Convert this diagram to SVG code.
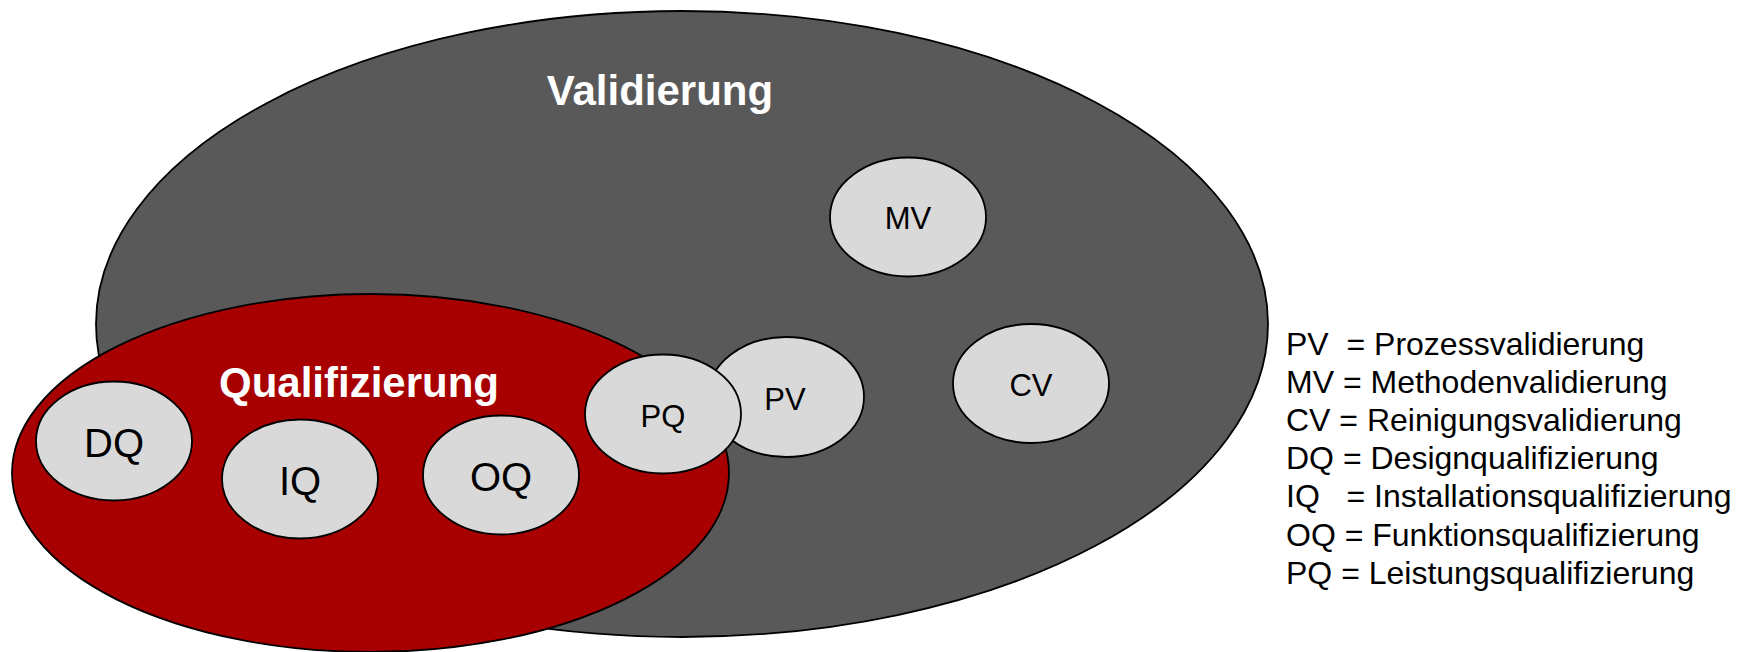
<svg xmlns="http://www.w3.org/2000/svg" width="1750" height="652" viewBox="0 0 1750 652">
<style>
.big{fill:#595959;stroke:#000;stroke-width:1.8}
.red{fill:#A80000;stroke:#000;stroke-width:1.8}
.sub{fill:#D9D9D9;stroke:#000;stroke-width:1.8}
.title{font-family:"Liberation Sans",Arial,sans-serif;font-weight:bold;font-size:42px;fill:#fff;text-anchor:middle}
.lbl{font-family:"Liberation Sans",Arial,sans-serif;fill:#000;text-anchor:middle}
.lg{font-family:"Liberation Sans",Arial,sans-serif;font-size:32px;fill:#000;white-space:pre}
</style>
<rect width="1750" height="652" fill="#fff"/>
<g id="validierung">
<ellipse class="big" cx="682" cy="324" rx="586" ry="313"/>
<text class="title" x="660" y="105">Validierung</text>
</g>
<g id="qualifizierung">
<ellipse class="red" cx="370.5" cy="473" rx="358.5" ry="179"/>
<text class="title" x="359" y="397">Qualifizierung</text>
</g>
<g id="dq">
<ellipse class="sub" cx="114" cy="441" rx="78" ry="59.5"/>
<text class="lbl" x="114" y="457" font-size="40">DQ</text>
</g>
<g id="iq">
<ellipse class="sub" cx="300" cy="479" rx="78" ry="59.5"/>
<text class="lbl" x="300" y="495" font-size="40">IQ</text>
</g>
<g id="oq">
<ellipse class="sub" cx="501" cy="475" rx="78" ry="59.5"/>
<text class="lbl" x="501" y="491" font-size="40">OQ</text>
</g>
<g id="pv">
<ellipse class="sub" cx="786" cy="397" rx="78" ry="60"/>
<text class="lbl" x="785" y="410" font-size="31">PV</text>
</g>
<g id="pq">
<ellipse class="sub" cx="663" cy="414" rx="78" ry="59.5"/>
<text class="lbl" x="663" y="427" font-size="31">PQ</text>
</g>
<g id="mv">
<ellipse class="sub" cx="908" cy="217" rx="78" ry="59.5"/>
<text class="lbl" x="908" y="229" font-size="31">MV</text>
</g>
<g id="cv">
<ellipse class="sub" cx="1031" cy="383.5" rx="78" ry="59.5"/>
<text class="lbl" x="1031" y="396" font-size="31">CV</text>
</g>
<g id="connectors"/>
<g id="legend">
<text class="lg" x="1286" y="355" xml:space="preserve">PV  = Prozessvalidierung</text>
<text class="lg" x="1286" y="393" xml:space="preserve">MV = Methodenvalidierung</text>
<text class="lg" x="1286" y="431" xml:space="preserve">CV = Reinigungsvalidierung</text>
<text class="lg" x="1286" y="469" xml:space="preserve">DQ = Designqualifizierung</text>
<text class="lg" x="1286" y="507" xml:space="preserve">IQ   = Installationsqualifizierung</text>
<text class="lg" x="1286" y="546" xml:space="preserve">OQ = Funktionsqualifizierung</text>
<text class="lg" x="1286" y="584" xml:space="preserve">PQ = Leistungsqualifizierung</text>
</g>
</svg>
